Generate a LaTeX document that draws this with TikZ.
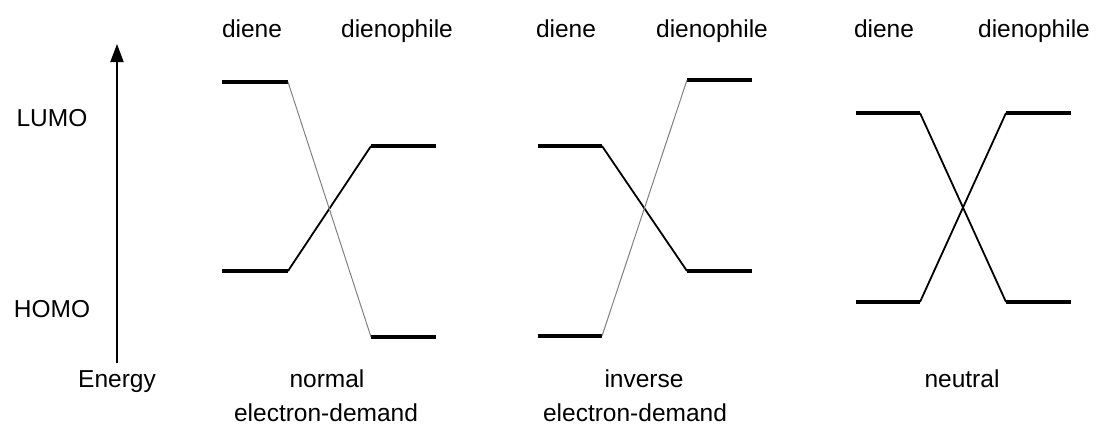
\documentclass[tikz,border=0pt]{standalone}
\usepackage{fontspec}
\setmainfont{Liberation Sans}
\usetikzlibrary{arrows.meta}
\begin{document}
\begin{tikzpicture}[x=1pt,y=-1pt,
  lbl/.style={inner sep=0pt,anchor=base,font=\fontsize{24.5}{29}\selectfont},
  level/.style={line width=3.4pt},
  strong/.style={line width=1.8pt},
  weak/.style={line width=1pt,black!50},
  axis/.style={line width=2pt,-{Triangle[length=18pt,width=13pt]}}]
\useasboundingbox (0,0) rectangle (1096,440);
% energy axis
\coordinate (ax0) at (117,363);
\coordinate (ax1) at (117,44);
\draw[axis] (ax0) -- (ax1);
\node[lbl] (lumo) at (52,126) {LUMO};
\node[lbl] (homo) at (52,317) {HOMO};
\node[lbl] (energy) at (117,387) {Energy};
% ---- normal ----
\coordinate (n-dl-l) at (222,82);  \coordinate (n-dl-r) at (288,82);
\coordinate (n-dh-l) at (222,271); \coordinate (n-dh-r) at (288,271);
\coordinate (n-pl-l) at (371,146); \coordinate (n-pl-r) at (436,146);
\coordinate (n-ph-l) at (371,337); \coordinate (n-ph-r) at (436,337);
\draw[level] (n-dl-l) -- (n-dl-r);
\draw[level] (n-dh-l) -- (n-dh-r);
\draw[level] (n-pl-l) -- (n-pl-r);
\draw[level] (n-ph-l) -- (n-ph-r);
\draw[strong] (n-dh-r) -- (n-pl-l);
\draw[weak] (n-dl-r) -- (n-ph-l);
\node[lbl] (n-diene) at (252,37) {diene};
\node[lbl] (n-dienophile) at (397,37) {dienophile};
\node[lbl] (n-t1) at (327,387) {normal};
\node[lbl] (n-t2) at (326,421) {electron-demand};
% ---- inverse ----
\coordinate (i-dl-l) at (538,146); \coordinate (i-dl-r) at (602,146);
\coordinate (i-dh-l) at (538,336); \coordinate (i-dh-r) at (602,336);
\coordinate (i-pl-l) at (687,80);  \coordinate (i-pl-r) at (752,80);
\coordinate (i-ph-l) at (687,271); \coordinate (i-ph-r) at (752,271);
\draw[level] (i-dl-l) -- (i-dl-r);
\draw[level] (i-dh-l) -- (i-dh-r);
\draw[level] (i-pl-l) -- (i-pl-r);
\draw[level] (i-ph-l) -- (i-ph-r);
\draw[strong] (i-dl-r) -- (i-ph-l);
\draw[weak] (i-dh-r) -- (i-pl-l);
\node[lbl] (i-diene) at (566,37) {diene};
\node[lbl] (i-dienophile) at (712,37) {dienophile};
\node[lbl] (i-t1) at (644,387) {inverse};
\node[lbl] (i-t2) at (635,421) {electron-demand};
% ---- neutral ----
\coordinate (u-dl-l) at (856,113);  \coordinate (u-dl-r) at (920,113);
\coordinate (u-dh-l) at (856,302);  \coordinate (u-dh-r) at (920,302);
\coordinate (u-pl-l) at (1006,113); \coordinate (u-pl-r) at (1071,113);
\coordinate (u-ph-l) at (1006,302); \coordinate (u-ph-r) at (1071,302);
\draw[level] (u-dl-l) -- (u-dl-r);
\draw[level] (u-dh-l) -- (u-dh-r);
\draw[level] (u-pl-l) -- (u-pl-r);
\draw[level] (u-ph-l) -- (u-ph-r);
\draw[strong] (u-dl-r) -- (u-ph-l);
\draw[strong] (u-dh-r) -- (u-pl-l);
\node[lbl] (u-diene) at (884,37) {diene};
\node[lbl] (u-dienophile) at (1034,37) {dienophile};
\node[lbl] (u-t1) at (962,387) {neutral};
\end{tikzpicture}
\end{document}
